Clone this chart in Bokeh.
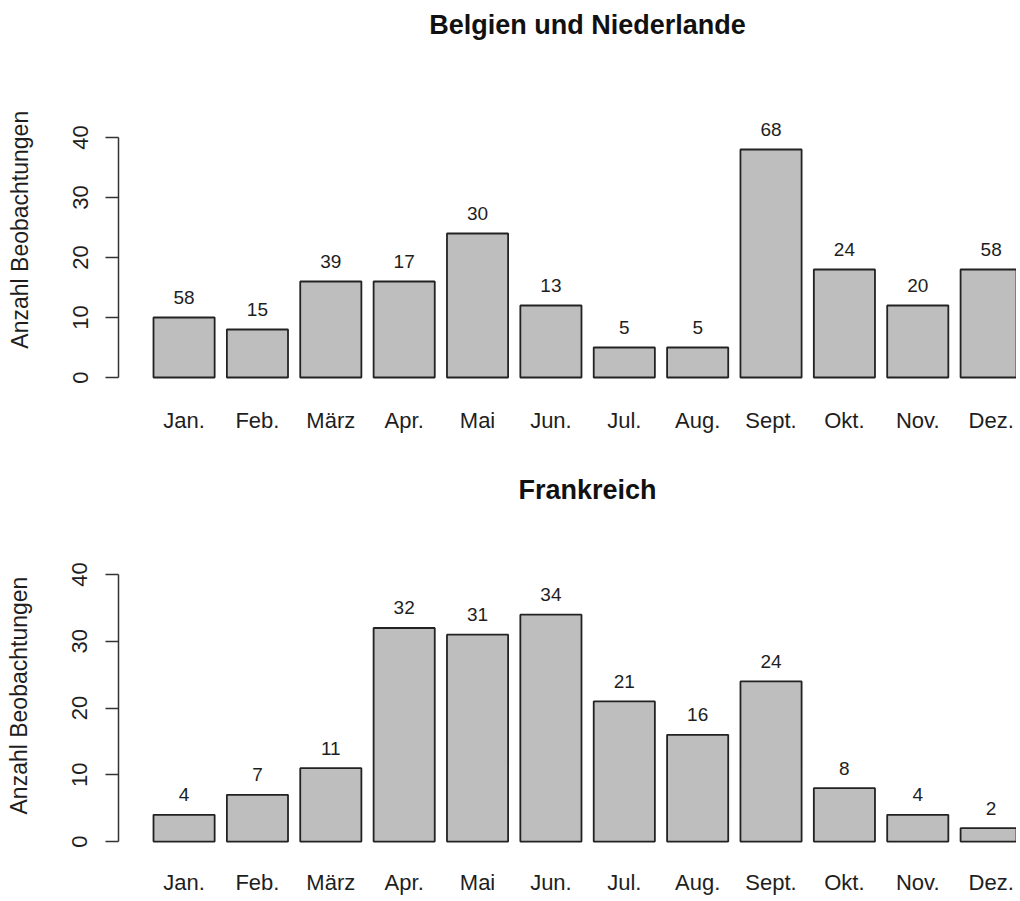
from bokeh.plotting import figure
from bokeh.layouts import column
from bokeh.models import Range1d, FixedTicker, LinearAxis
from bokeh.core.properties import value
from bokeh.embed import file_html
from bokeh.resources import INLINE

# ---------------- data ----------------
months = ["Jan.", "Feb.", "März", "Apr.", "Mai", "Jun.", "Jul.", "Aug.",
          "Sept.", "Okt.", "Nov.", "Dez."]
be_title = "Belgien und Niederlande"
be_heights = [10, 8, 16, 16, 24, 12, 5, 5, 38, 18, 12, 18]
be_labels = ["58", "15", "39", "17", "30", "13", "5", "5", "68", "24", "20", "58"]
fr_title = "Frankreich"
fr_heights = [4, 7, 11, 32, 31, 34, 21, 16, 24, 8, 4, 2]
fr_labels = ["4", "7", "11", "32", "31", "34", "21", "16", "24", "8", "4", "2"]
y_ticks = [0, 10, 20, 30, 40]
y_title = "Anzahl Beobachtungen"

FONT = "Liberation Sans"
TXT = "#1e1e1e"
W = 1016
xs = list(range(1, len(months) + 1))
X0, X1 = 0.1063, 12.3456
BAR_W = 0.8333
TITLE_X = 6.4986
FRAME_LEFT = 118


def panel(heights, labels, title, H, frame_bottom, y0, ppu, title_fig_y,
          ytitle_pos, label_standoff):
    ys = -(frame_bottom - y0) / ppu
    ye = y0 / ppu
    p = figure(width=W, height=H, x_range=Range1d(X0, X1), y_range=Range1d(ys, ye),
               output_backend="svg", toolbar_location=None,
               min_border_left=FRAME_LEFT, min_border_right=0, min_border_top=0,
               min_border_bottom=H - frame_bottom)
    p.outline_line_color = None
    p.xgrid.grid_line_color = None
    p.ygrid.grid_line_color = None
    p.background_fill_color = "white"
    p.border_fill_color = "white"

    p.vbar(x=xs, top=heights, bottom=0, width=BAR_W, fill_color="#bebebe",
           line_color="#222222", line_width=1.8)
    p.text(x=xs, y=heights, text=labels, text_align="center", text_baseline="middle",
           y_offset=-20, text_font=value(FONT), text_font_size="19px", text_color=TXT)
    p.text(x=[TITLE_X], y=[(y0 - title_fig_y) / ppu], text=[title], text_align="center",
           text_baseline="middle", text_font=value(FONT), text_font_size="27px",
           text_font_style="bold", text_color="#111111")

    xa = p.xaxis[0]
    xa.ticker = FixedTicker(ticks=xs)
    xa.major_label_overrides = {x: m for x, m in zip(xs, months)}
    xa.axis_line_color = None
    xa.major_tick_line_color = None
    xa.major_tick_in = 0
    xa.major_tick_out = 0
    xa.minor_tick_line_color = None
    xa.major_label_standoff = label_standoff
    xa.major_label_text_font = FONT
    xa.major_label_text_font_size = "22px"
    xa.major_label_text_color = TXT

    ya = p.yaxis[0]
    ya.ticker = FixedTicker(ticks=y_ticks)
    ya.bounds = (0, 40)
    ya.axis_line_color = "#333333"
    ya.axis_line_width = 1.5
    ya.major_tick_line_color = "#333333"
    ya.major_tick_line_width = 1.5
    ya.major_tick_in = 0
    ya.major_tick_out = 13
    ya.minor_tick_line_color = None
    ya.major_label_orientation = "vertical"
    ya.major_label_standoff = 18
    ya.major_label_text_font = FONT
    ya.major_label_text_font_size = "22px"
    ya.major_label_text_color = TXT

    # y-axis title, carried by an outer axis so it can sit where R puts it
    ta = LinearAxis(ticker=FixedTicker(ticks=[ytitle_pos]),
                    major_label_overrides={ytitle_pos: y_title})
    ta.axis_line_color = None
    ta.major_tick_line_color = None
    ta.minor_tick_line_color = None
    ta.major_tick_in = 0
    ta.major_tick_out = 0
    ta.major_label_orientation = "vertical"
    ta.major_label_standoff = 37
    ta.major_label_text_font = FONT
    ta.major_label_text_font_size = "23px"
    ta.major_label_text_color = TXT
    p.add_layout(ta, "left")
    return p


p1 = panel(be_heights, be_labels, be_title, H=458, frame_bottom=392, y0=377, ppu=6.0,
           title_fig_y=24, ytitle_pos=24.625, label_standoff=15)
p2 = panel(fr_heights, fr_labels, fr_title, H=439, frame_bottom=394, y0=386, ppu=6.725,
           title_fig_y=32, ytitle_pos=21.875, label_standoff=20)

layout = column(p1, p2, spacing=0)
open("out.html", "w").write(file_html(layout, INLINE))
